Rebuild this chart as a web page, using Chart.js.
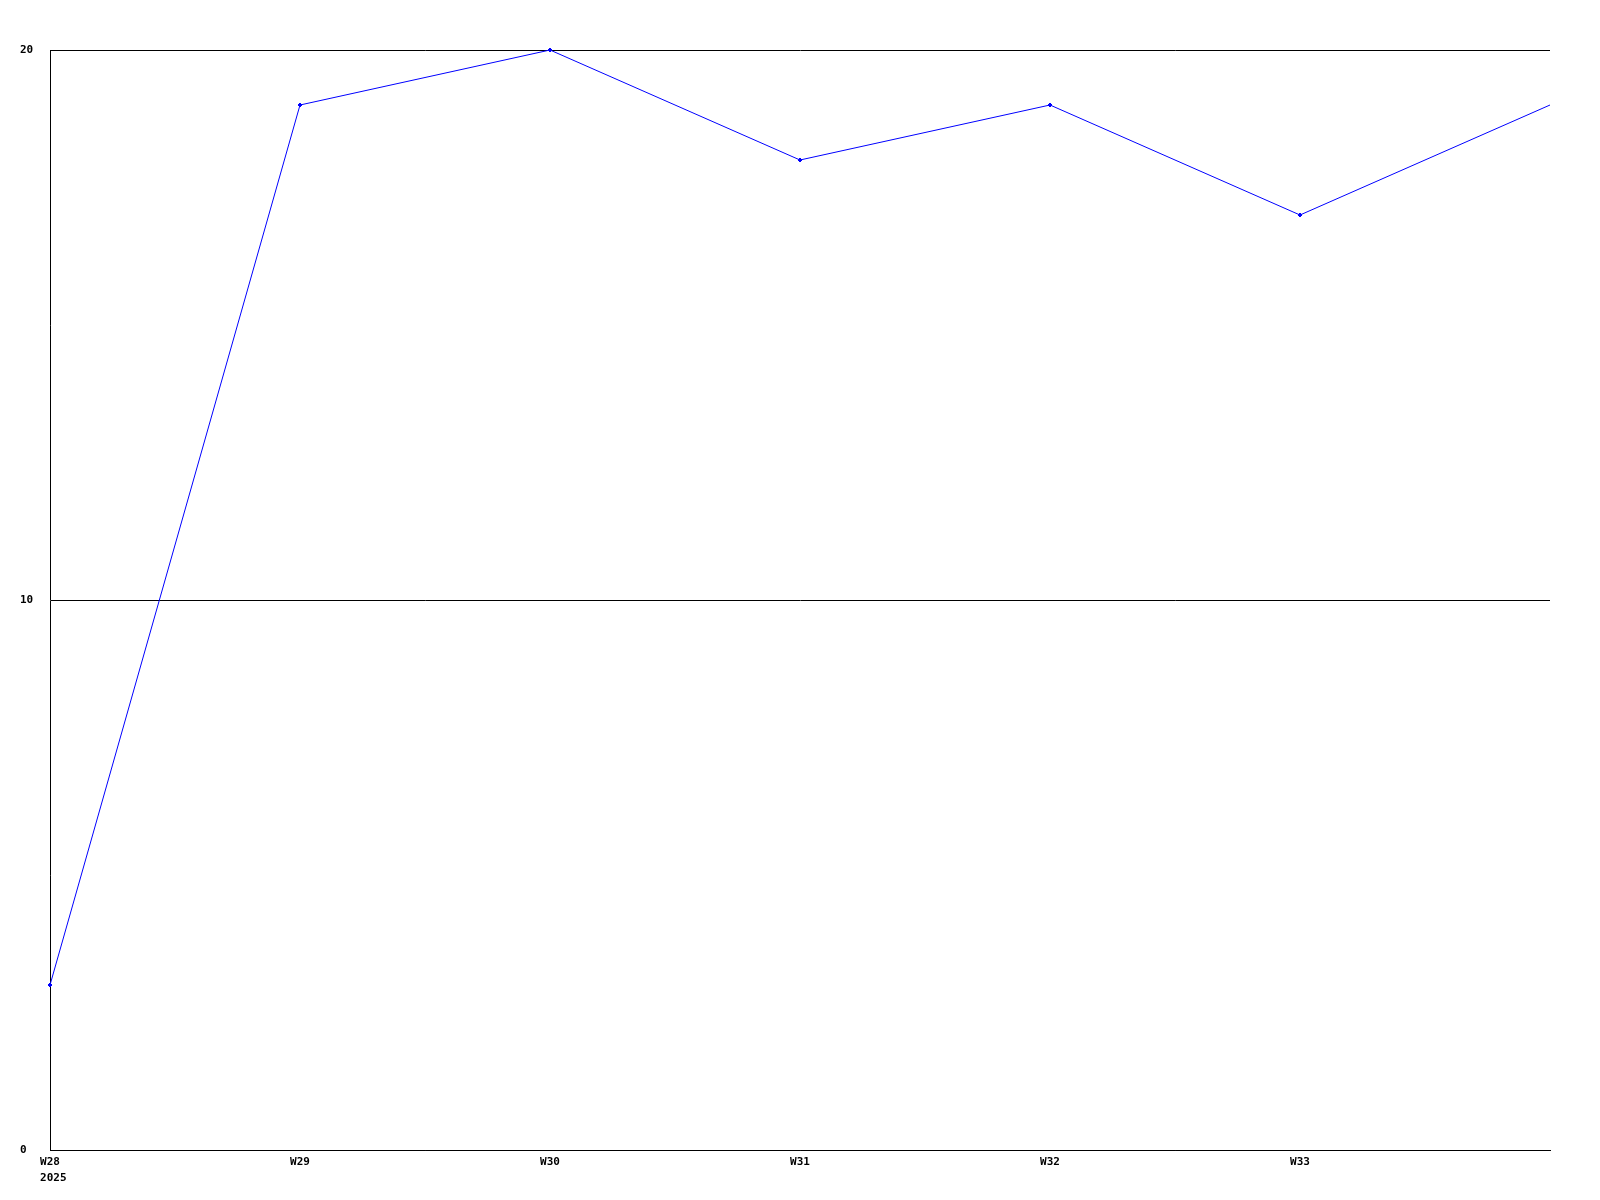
<!DOCTYPE html>
<html>
<head>
<meta charset="utf-8">
<style>
html,body{margin:0;padding:0;background:#fff;}
canvas{display:block;}
</style>
<script src="https://cdn.jsdelivr.net/npm/chart.js@4/dist/chart.umd.min.js"></script>
</head>
<body>
<canvas id="c" width="1600" height="1200"></canvas>
<script>
const weeks = ['W28', 'W29', 'W30', 'W31', 'W32', 'W33', 'W34'];
const tickLabels = [['W28', ' 2025'], 'W29', 'W30', 'W31', 'W32', 'W33', ''];
const values = [3, 19, 20, 18, 19, 17, 19];
const yTicks = [0, 10, 20];

const yFont = { family: "'DejaVu Sans Mono', 'Liberation Mono', monospace", size: 11, weight: 'bold', lineHeight: 1.3 };
const xFont = { family: "'DejaVu Sans Mono', 'Liberation Mono', monospace", size: 11, weight: 'bold', lineHeight: 1.45 };

new Chart(document.getElementById('c'), {
  type: 'line',
  data: {
    labels: weeks,
    datasets: [{
      data: values,
      borderColor: '#0000ff',
      backgroundColor: '#0000ff',
      borderWidth: 1,
      pointStyle: 'rectRot',
      pointRadius: ctx => (ctx.dataIndex === values.length - 1 ? 0 : 2),
      pointBorderWidth: 1,
      tension: 0,
      fill: false,
      clip: false
    }]
  },
  options: {
    responsive: false,
    animation: false,
    devicePixelRatio: 1,
    layout: { padding: { top: 50, right: 50, left: 20, bottom: 0 } },
    plugins: { legend: { display: false }, tooltip: { enabled: false } },
    scales: {
      x: {
        type: 'category',
        offset: false,
        grid: { display: false, drawTicks: false },
        border: { display: true, color: '#000', width: 1 },
        ticks: {
          color: '#000',
          font: xFont,
          padding: 4,
          maxRotation: 0,
          autoSkip: false,
          callback: (v, i) => tickLabels[i]
        },
        afterFit: s => { s.height = 50; }
      },
      y: {
        min: 0,
        max: 20,
        afterBuildTicks: s => { s.ticks = yTicks.map(v => ({ value: v })); },
        grid: { color: '#000', lineWidth: 1, drawTicks: false },
        border: { display: true, color: '#000', width: 1 },
        ticks: {
          color: '#000',
          font: yFont,
          crossAlign: 'far',
          padding: 0,
          callback: v => String(v)
        },
        afterFit: s => { s.width = 30; }
      }
    }
  }
});
</script>
</body>
</html>
